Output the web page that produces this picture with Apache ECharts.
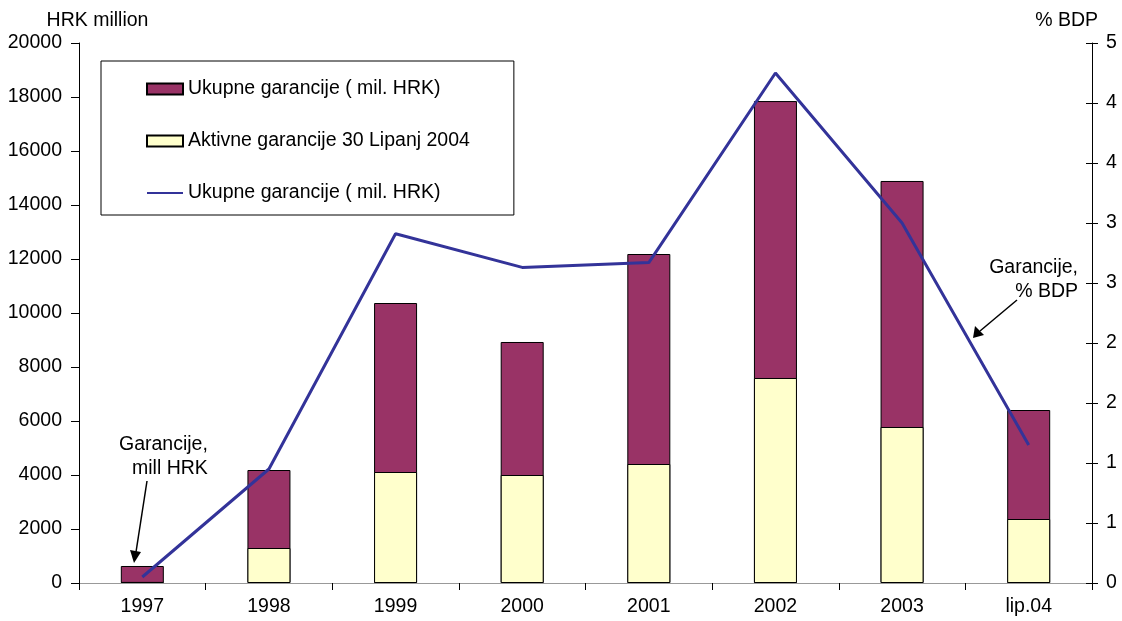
<!DOCTYPE html>
<html>
<head>
<meta charset="utf-8">
<script src="https://cdn.jsdelivr.net/npm/echarts@6/dist/echarts.min.js"></script>
<style>
  html, body { margin: 0; padding: 0; background: #fff; }
  #chart { width: 1122px; height: 621px; }
</style>
</head>
<body>
<div id="chart"></div>
<script>
// Državna jamstva: ukupne i aktivne garancije (mil. HRK) te ukupne garancije u % BDP-a
const categories = ['1997', '1998', '1999', '2000', '2001', '2002', '2003', 'lip.04'];
const ukupneMilHRK = [630, 4185, 10370, 8926, 12185, 17850, 14890, 6407];
const aktivneMilHRK = [40, 1296, 4111, 4000, 4407, 7593, 5778, 2370];
const ukupnePostoBDP = [0.05, 0.95, 2.91, 2.63, 2.67, 4.25, 3.0, 1.15];

const leftTicks = { min: 0, max: 20000, interval: 2000 };
const rightTicks = { min: 0, max: 4.5, interval: 0.5 };

const FONT = 'Liberation Sans';
const FS = 19.5;
const chart = echarts.init(document.getElementById('chart'), null, { renderer: 'canvas' });

const baseText = { fontFamily: FONT, fontSize: FS, color: '#000' };
const font = FS + 'px "Liberation Sans"';

chart.setOption({
  animation: false,
  textStyle: { fontFamily: FONT },
  grid: { left: 79, right: 30, top: 43, bottom: 38, containLabel: false },
  legend: {
    orient: 'vertical',
    left: 101,
    top: 61,
    padding: [18, 44, 12, 45],
    itemGap: 32,
    itemWidth: 36,
    itemHeight: 11,
    itemTextGap: 5,
    borderColor: '#000',
    borderWidth: 1,
    backgroundColor: '#fff',
    textStyle: baseText,
    data: [
      { name: 'Ukupne garancije ( mil. HRK)', icon: 'rect' },
      { name: 'Aktivne garancije 30 Lipanj 2004', icon: 'rect' },
      { name: 'Ukupne garancije ( mil. HRK) ', itemStyle: { opacity: 0 } }
    ]
  },
  xAxis: [
    {
      type: 'category',
      data: categories,
      boundaryGap: true,
      axisLine: { lineStyle: { color: '#000', width: 1 } },
      axisTick: { show: true, length: 7, lineStyle: { color: '#000' } },
      axisLabel: { ...baseText, margin: 14 }
    },
    {
      type: 'category',
      data: categories,
      position: 'top',
      axisLine: { lineStyle: { color: '#999', width: 1 } },
      axisTick: { show: false },
      axisLabel: { show: false }
    }
  ],
  yAxis: [
    {
      type: 'value',
      ...leftTicks,
      name: 'HRK million',
      nameGap: 12,
      nameTextStyle: { ...baseText, align: 'center', padding: [0, 0, 0, 37] },
      nameLocation: 'end',
      splitLine: { show: false },
      axisLine: { show: true, lineStyle: { color: '#000' } },
      axisTick: { show: true, length: 8, lineStyle: { color: '#000' } },
      axisLabel: { ...baseText, margin: 17, formatter: v => String(v) }
    },
    {
      type: 'value',
      position: 'right',
      ...rightTicks,
      name: '% BDP',
      nameGap: 12,
      nameTextStyle: { ...baseText, align: 'right', padding: [0, -6, 0, 0] },
      splitLine: { show: false },
      axisLine: { show: true, lineStyle: { color: '#000' } },
      axisTick: { show: true, length: 6, lineStyle: { color: '#000' } },
      axisLabel: { ...baseText, margin: 14, formatter: v => String(Math.round(v)) }
    },
    {
      // inner half of the cross ticks on the right axis
      type: 'value',
      position: 'right',
      ...rightTicks,
      splitLine: { show: false },
      axisLine: { show: false },
      axisTick: { show: true, inside: true, length: 6, lineStyle: { color: '#000' } },
      axisLabel: { show: false }
    }
  ],
  series: [
    {
      name: 'Ukupne garancije ( mil. HRK)',
      type: 'bar',
      data: ukupneMilHRK,
      barWidth: 43,
      barGap: '-100%',
      itemStyle: { color: '#993366', borderColor: '#000', borderWidth: 1 },
      z: 2
    },
    {
      name: 'Aktivne garancije 30 Lipanj 2004',
      type: 'bar',
      data: aktivneMilHRK,
      barWidth: 43,
      barGap: '-100%',
      itemStyle: { color: '#FFFFCC', borderColor: '#000', borderWidth: 1 },
      z: 3
    },
    {
      name: 'Ukupne garancije ( mil. HRK) ',
      type: 'line',
      yAxisIndex: 1,
      data: ukupnePostoBDP,
      symbol: 'none',
      showSymbol: false,
      lineStyle: { color: '#333399', width: 3 },
      itemStyle: { color: '#333399' },
      z: 5
    }
  ],
  graphic: [
    {
      type: 'text',
      style: { x: 119, y: 445, text: 'Garancije,', font, fill: '#000', align: 'left', verticalAlign: 'middle' }
    },
    {
      type: 'text',
      style: { x: 132, y: 469, text: 'mill HRK', font, fill: '#000', align: 'left', verticalAlign: 'middle' }
    },
    {
      type: 'line',
      shape: { x1: 147, y1: 481, x2: 136, y2: 552 },
      style: { stroke: '#000', lineWidth: 1.5 }
    },
    {
      type: 'polygon',
      shape: { points: [[130, 550], [141, 552], [134, 563]] },
      style: { fill: '#000' }
    },
    {
      type: 'text',
      style: { x: 1078, y: 268, text: 'Garancije,', font, fill: '#000', align: 'right', verticalAlign: 'middle' }
    },
    {
      type: 'text',
      style: { x: 1078, y: 292, text: '% BDP', font, fill: '#000', align: 'right', verticalAlign: 'middle' }
    },
    {
      type: 'line',
      shape: { x1: 1017, y1: 300, x2: 980, y2: 331 },
      style: { stroke: '#000', lineWidth: 1.5 }
    },
    {
      type: 'polygon',
      shape: { points: [[975, 326], [984, 335], [973, 338]] },
      style: { fill: '#000' }
    }
  ]
});
</script>
</body>
</html>
